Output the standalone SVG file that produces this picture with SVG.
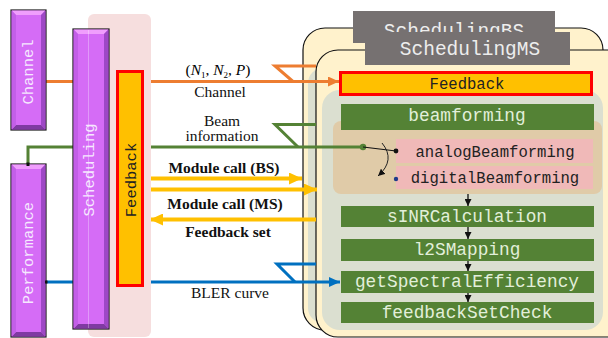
<svg xmlns="http://www.w3.org/2000/svg" width="608" height="338" viewBox="0 0 608 338">
<style>
.mono{font-family:"Liberation Mono","DejaVu Sans Mono",monospace}
.serif{font-family:"Liberation Serif","DejaVu Serif",serif}
.pm{fill:#D56CF6;stroke:#1a1a1a;stroke-width:1.2}
.pt{fill:#F09EFD}
.pr{fill:#9E48C6}
.pb{fill:#7F3AA2}
.pl{fill:#C35FE8}
.vt{font-size:15.5px;fill:#F6E8FF}
.green{fill:#548235}
.gt{font-size:17.8px;fill:#E2EFDA;text-anchor:middle}
.pink{fill:#F0B9B8}
.bt{font-size:15.6px;fill:#222;text-anchor:middle}
.lbl{font-size:15.5px;fill:#111;text-anchor:middle}
.b{font-weight:bold}
.conn{fill:none;stroke-width:3}
.flow{stroke:#111;stroke-width:1.3;fill:none}
</style>
<defs>
<marker id="aO" markerUnits="userSpaceOnUse" markerWidth="11" markerHeight="10" refX="11" refY="5" orient="auto"><path d="M0,0 L11,5 L0,10 z" fill="#ED7D31"/></marker>
<marker id="aB" markerUnits="userSpaceOnUse" markerWidth="11" markerHeight="10" refX="11" refY="5" orient="auto"><path d="M0,0 L11,5 L0,10 z" fill="#0070C0"/></marker>
<marker id="aY" markerUnits="userSpaceOnUse" markerWidth="13" markerHeight="12" refX="13" refY="6" orient="auto"><path d="M0,0 L13,6 L0,12 z" fill="#FFC000"/></marker>
<marker id="aK" markerUnits="userSpaceOnUse" markerWidth="7" markerHeight="7" refX="7" refY="3.5" orient="auto"><path d="M0,0 L7,3.5 L0,7 z" fill="#111"/></marker>
<clipPath id="clipBS"><rect x="353" y="11" width="202" height="21"/></clipPath>
</defs>

<!-- Back card: SchedulingBS -->
<g id="schedulingBS-card">
<rect x="303" y="28" width="300" height="302" rx="22" fill="#FFF2CC" stroke="#111" stroke-width="1.2"/>
<rect x="308" y="68" width="290" height="255" rx="15" fill="#DBDFD0"/>
</g>

<!-- Front card: SchedulingMS -->
<g id="schedulingMS-card">
<rect x="316" y="50" width="320" height="287" rx="22" fill="#FFF2CC" stroke="#111" stroke-width="1.2"/>
<rect x="322" y="90" width="281" height="240" rx="18" fill="#DBDFD0"/>
</g>

<g id="label-schedulingBS">
<rect x="353" y="11" width="202" height="32" fill="#767171"/>
<text class="mono" x="454" y="37" font-size="19.5" fill="#EDEDED" text-anchor="middle" clip-path="url(#clipBS)">SchedulingBS</text>
</g>
<g id="label-schedulingMS">
<rect x="365" y="32" width="205" height="33" fill="#767171"/>
<text class="mono" x="470" y="55" font-size="19.5" fill="#EDEDED" text-anchor="middle">SchedulingMS</text>
</g>

<g id="feedback-bar">
<rect x="340.5" y="72.5" width="251" height="22" fill="#FFC000" stroke="#FF0000" stroke-width="3"/>
<text class="mono bt" x="467" y="88.5">Feedback</text>
</g>

<g id="beamforming-group">
<rect x="333" y="121" width="269" height="73" rx="8" fill="#E0CBA8"/>
</g>
<g id="beamforming">
<rect class="green" x="341" y="104" width="253" height="26"/>
<text class="mono gt" x="467" y="121">beamforming</text>
</g>
<g id="analogBeamforming">
<rect class="pink" x="396" y="139" width="197" height="24"/>
<text class="mono bt" x="495" y="157">analogBeamforming</text>
</g>
<g id="digitalBeamforming">
<rect class="pink" x="396" y="166" width="197" height="23"/>
<text class="mono bt" x="495" y="183">digitalBeamforming</text>
</g>
<g id="sINRCalculation">
<rect class="green" x="341" y="206" width="253" height="21"/>
<text class="mono gt" x="467" y="222">sINRCalculation</text>
</g>
<g id="l2SMapping">
<rect class="green" x="341" y="239" width="253" height="22"/>
<text class="mono gt" x="467" y="255">l2SMapping</text>
</g>
<g id="getSpectralEfficiency">
<rect class="green" x="341" y="271" width="253" height="22"/>
<text class="mono gt" x="467" y="287">getSpectralEfficiency</text>
</g>
<g id="feedbackSetCheck">
<rect class="green" x="341" y="302" width="253" height="21"/>
<text class="mono gt" x="467" y="318">feedbackSetCheck</text>
</g>

<!-- Connectors -->
<g id="connectors">
<path class="conn" stroke="#ED7D31" d="M46,81.5 H339" marker-end="url(#aO)"/>
<path class="conn" stroke="#ED7D31" d="M316,66 H275 L293,81.5"/>
<path class="conn" stroke="#548235" d="M28,164 V147 H363"/>
<path class="conn" stroke="#548235" d="M316,124.5 H275 L298,147"/>
<path class="conn" stroke="#0070C0" d="M46,282 H340" marker-end="url(#aB)"/>
<path class="conn" stroke="#0070C0" d="M316,264 H277 L295,282"/>
<path fill="none" stroke="#FFC000" stroke-width="4" d="M151,178.5 H302" marker-end="url(#aY)"/>
<path fill="none" stroke="#FFC000" stroke-width="4" d="M151,189.5 H317" marker-end="url(#aY)"/>
<path fill="none" stroke="#FFC000" stroke-width="4" d="M316,219.5 H150" marker-end="url(#aY)"/>
<circle cx="363" cy="147" r="3.2" fill="#548235"/>
<line x1="363" y1="147" x2="396" y2="151" stroke="#111" stroke-width="1.2"/>
<circle cx="396" cy="151" r="2.4" fill="#111"/>
<circle cx="396" cy="179" r="2.2" fill="#1F3A8A"/>
<path d="M382,143 Q396,160 378,176" fill="none" stroke="#222" stroke-width="1" marker-end="url(#aK)"/>
<path class="flow" d="M468,194 V206" marker-end="url(#aK)"/>
<path class="flow" d="M468,227 V239" marker-end="url(#aK)"/>
<path class="flow" d="M468,261 V271" marker-end="url(#aK)"/>
<path class="flow" d="M468,293 V302" marker-end="url(#aK)"/>
</g>

<!-- Connector labels -->
<g id="labels">
<text class="serif" x="218" y="75" font-size="15.5" text-anchor="middle"><tspan>(</tspan><tspan font-style="italic">N</tspan><tspan font-size="9" dy="3">1</tspan><tspan dy="-3">, </tspan><tspan font-style="italic">N</tspan><tspan font-size="9" dy="3">2</tspan><tspan dy="-3">, </tspan><tspan font-style="italic">P</tspan><tspan>)</tspan></text>
<text class="serif lbl" x="220" y="97">Channel</text>
<text class="serif lbl" x="222" y="126" font-size="14.5">Beam</text>
<text class="serif lbl" x="222" y="141" font-size="14.5">information</text>
<text class="serif lbl b" x="224" y="173">Module call (BS)</text>
<text class="serif lbl b" x="225" y="209">Module call (MS)</text>
<text class="serif lbl b" x="228" y="237">Feedback set</text>
<text class="serif lbl" x="230" y="298">BLER curve</text>
</g>

<!-- Left side -->
<g id="feedback-panel">
<rect x="88" y="14" width="63" height="323" rx="6" fill="#F6DEDE"/>
</g>

<g id="channel">
<rect class="pm" x="11" y="10" width="35" height="120"/>
<polygon class="pt" points="11.6,10.6 45.4,10.6 41,15 16,15"/>
<polygon class="pr" points="45.4,10.6 45.4,129.4 41,125 41,15"/>
<polygon class="pb" points="11.6,129.4 45.4,129.4 41,125 16,125"/>
<polygon class="pl" points="11.6,10.6 11.6,129.4 16,125 16,15"/>
<text class="mono vt" font-size="15" transform="translate(33,72) rotate(-90)" text-anchor="middle">Channel</text>
</g>

<g id="scheduling">
<rect class="pm" x="73" y="29" width="36" height="300"/>
<polygon class="pt" points="73.6,29.6 108.4,29.6 104,34 78,34"/>
<polygon class="pr" points="108.4,29.6 108.4,328.4 104,324 104,34"/>
<polygon class="pb" points="73.6,328.4 108.4,328.4 104,324 78,324"/>
<polygon class="pl" points="73.6,29.6 73.6,328.4 78,324 78,34"/>
<line x1="88.5" y1="30" x2="88.5" y2="328" stroke="#fff" stroke-opacity="0.3" stroke-width="1"/>
<text class="mono vt" transform="translate(94,170) rotate(-90)" text-anchor="middle">Scheduling</text>
</g>

<g id="performance">
<rect class="pm" x="11" y="164" width="35" height="173"/>
<polygon class="pt" points="11.6,164.6 45.4,164.6 41,169 16,169"/>
<polygon class="pr" points="45.4,164.6 45.4,336.4 41,332 41,169"/>
<polygon class="pb" points="11.6,336.4 45.4,336.4 41,332 16,332"/>
<polygon class="pl" points="11.6,164.6 11.6,336.4 16,332 16,169"/>
<text class="mono vt" transform="translate(33,253) rotate(-90)" text-anchor="middle">Performance</text>
<rect x="26.5" y="162.5" width="3" height="3.5" fill="#111"/>
<rect x="45" y="280.5" width="2.5" height="3" fill="#111"/>
</g>

<g id="feedback">
<rect x="117.5" y="71.5" width="25" height="214" fill="#FFC000" stroke="#FF0000" stroke-width="3"/>
<text class="mono" font-size="15.5" fill="#222" transform="translate(136,180) rotate(-90)" text-anchor="middle">Feedback</text>
</g>
</svg>
